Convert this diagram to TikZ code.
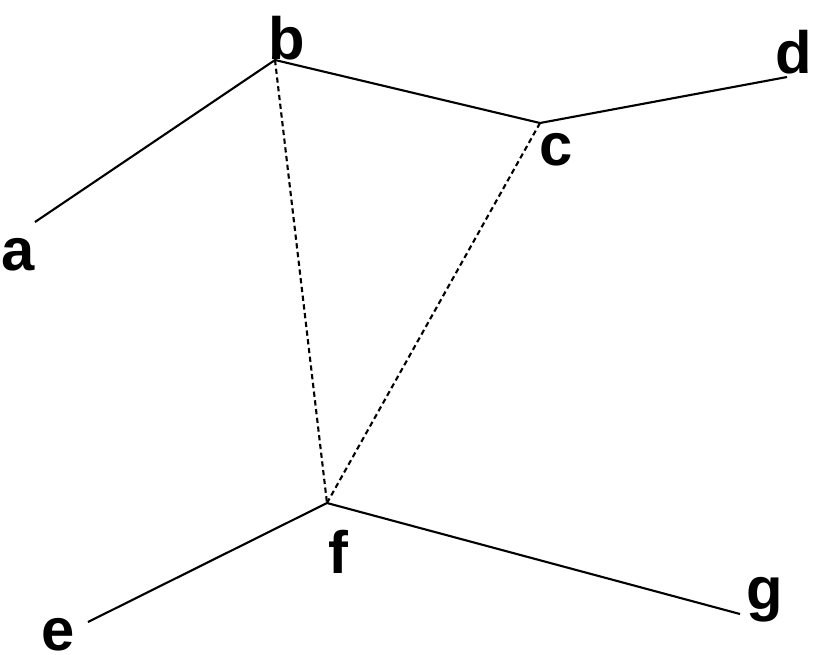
\documentclass[tikz,border=0pt]{standalone}
\usepackage{fontspec}
\setmainfont{Liberation Sans}
\begin{document}
\begin{tikzpicture}[x=0.02cm, y=-0.02cm,
  lbl/.style={font=\fontsize{34}{34}\selectfont\bfseries, inner sep=0pt},
  edge/.style={line width=1.2pt},
  chord/.style={line width=1.2pt, densely dashed}]
  \useasboundingbox (0,0) rectangle (816,654);
  % vertices and free ends
  \coordinate (vb) at (275,60);  \coordinate (vc) at (540,123);
  \coordinate (vf) at (327,503);
  \coordinate (va) at (35,222);  \coordinate (vd) at (787,77);
  \coordinate (ve) at (88,622);  \coordinate (vg) at (740,614);
  % labels
  \node[lbl] (b) at (287,38) {b};  \node[lbl] (c) at (556,150) {c};
  \node[lbl] (d) at (794,52) {d};  \node[lbl] (a) at (18,255) {a};
  \node[lbl] (f) at (338,552) {f}; \node[lbl] (e) at (58,635) {e};
  \node[lbl] (g) at (765,600) {g};
  % edges
  \draw[edge] (va) -- (vb) -- (vc) -- (vd);
  \draw[edge] (ve) -- (vf) -- (vg);
  \draw[chord] (vb) -- (vf);
  \draw[chord] (vc) -- (vf);
\end{tikzpicture}
\end{document}
